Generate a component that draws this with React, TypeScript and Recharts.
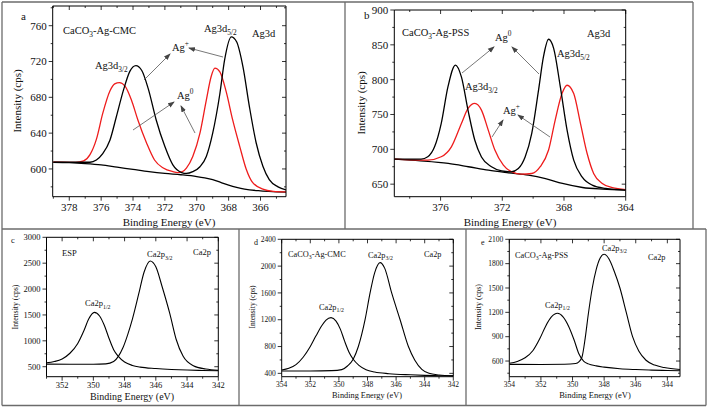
import React from 'react';
import { LineChart, Line, XAxis, YAxis } from 'recharts';

const W = 709;
const H = 407;
const FONT = "'Liberation Serif', 'Times New Roman', 'DejaVu Serif', serif";
const RED = '#ee1c1c';

type Pt = [number, number];

// ---- panel a : CaCO3-Ag-CMC, Ag3d ----
const aBackground: Pt[] = [
  [379.0, 607.5], [378, 607], [377, 606], [376, 604.5], [375, 602], [374, 599.5], [373, 597],
  [372, 595], [371, 593.5], [370, 591.5], [369.5, 590], [369, 588], [368.5, 585], [368, 582],
  [367.5, 579.5], [367, 577.5], [366, 575.5], [365, 574.5], [364.4, 574],
];
const aAgPlus: Pt[] = [
  [379.0, 607.5], [377.6, 607.3], [377.1, 609], [376.7, 616], [376.3, 633], [375.9, 662],
  [375.45, 687], [375.15, 695], [374.85, 696.5], [374.5, 692.5], [374.1, 677], [373.7, 655],
  [373.15, 629], [372.65, 610], [372.1, 601], [371.5, 597], [371.2, 596], [370.9, 597],
  [370.65, 601], [370.25, 614], [369.8, 640], [369.4, 677], [369.1, 703], [368.86, 712.5],
  [368.55, 708.5], [368.15, 686], [367.75, 655], [367.3, 625], [366.9, 600], [366.5, 585],
  [365.85, 577.5], [365.2, 575], [364.4, 574.3],
];
const aAg0: Pt[] = [
  [379.0, 607.5], [376.7, 607.5], [376.3, 610], [375.9, 617], [375.45, 632], [375.05, 658],
  [374.6, 688], [374.2, 709], [373.82, 715.5], [373.45, 710], [373.05, 690], [372.55, 655],
  [372.0, 625], [371.5, 604.5], [370.95, 596], [370.65, 595], [370.25, 597], [369.8, 602.5],
  [369.4, 614], [369.0, 640], [368.55, 684], [368.25, 722], [367.83, 747.5], [367.5, 742],
  [367.1, 714], [366.7, 670], [366.27, 629], [365.85, 603], [365.45, 588], [364.9, 580],
  [364.4, 576.5],
];

// ---- panel b : CaCO3-Ag-PSS, Ag3d ----
const bBackground: Pt[] = [
  [379, 686], [377.3, 683.5], [375.5, 679.7], [374.2, 675], [372.9, 670], [371.6, 666.3],
  [370.3, 663], [369.2, 658], [368.1, 651], [366.8, 645.2], [365.5, 642.8], [364, 641.4],
];
const bAg0: Pt[] = [
  [379, 686], [377.26, 686], [376.83, 689.3], [376.39, 703.6], [375.96, 737], [375.52, 790],
  [375.04, 821], [374.65, 804], [374.22, 756], [373.78, 713], [373.35, 689], [372.7, 675],
  [372.04, 669], [371.43, 667.7], [370.96, 672.5], [370.52, 689], [370.09, 723], [369.65, 785],
  [369.33, 833], [369.0, 858], [368.67, 845], [368.24, 790], [367.8, 727.6], [367.37, 684.5],
  [366.83, 660.5], [366.17, 648.6], [365.3, 643.8], [364, 641.4],
];
const bAgPlus: Pt[] = [
  [379, 686], [376.83, 684.5], [375.96, 689.3], [375.3, 703.6], [374.65, 737], [374.22, 758.7],
  [373.78, 766], [373.35, 756.3], [372.91, 727.6], [372.48, 699], [371.93, 677.3], [371.39, 667.7],
  [370.74, 664.4], [370.09, 665.3], [369.54, 675], [369.0, 699], [368.57, 742], [368.13, 780],
  [367.8, 792], [367.37, 780], [366.93, 737], [366.5, 694], [366.07, 665], [365.52, 651],
  [364.87, 645], [364, 642.3],
];

// ---- panel c : ESP, Ca2p ----
const cP12: Pt[] = [
  [353, 575], [352.5, 600], [352, 650], [351.5, 760], [351, 950], [350.6, 1200], [350.3, 1420],
  [349.94, 1550], [349.6, 1480], [349.3, 1300], [349, 1050], [348.7, 830], [348.4, 700],
  [348, 590], [347.5, 525], [347, 492], [346, 465], [345, 447], [344, 435], [343, 428], [342, 422],
];
const cP32: Pt[] = [
  [353, 550], [351.5, 548], [350, 548], [349.2, 555], [348.7, 600], [348.4, 700], [348.1, 870],
  [347.8, 1120], [347.5, 1420], [347.1, 1900], [346.75, 2330], [346.36, 2543], [346.0, 2430],
  [345.6, 2050], [345.1, 1520], [344.7, 1030], [344.25, 700], [343.6, 520], [342.8, 455], [342, 430],
];

// ---- panel d : CaCO3-Ag-CMC, Ca2p ----
const dP12: Pt[] = [
  [354, 450], [353.5, 475], [353, 530], [352.5, 640], [352, 800], [351.6, 960], [351.2, 1110],
  [350.9, 1195], [350.55, 1231], [350.2, 1180], [349.9, 1060], [349.6, 880], [349.3, 720],
  [349.0, 610], [348.6, 520], [348.1, 455], [347.5, 420], [346.5, 395], [345, 378], [344, 370],
  [343, 365], [342, 362],
];
const dP32: Pt[] = [
  [354, 435], [352, 435], [350.5, 440], [349.8, 455], [349.4, 510], [349.0, 610], [348.64, 800],
  [348.17, 1200], [347.82, 1600], [347.5, 1900], [347.12, 2052], [346.8, 1970], [346.31, 1600],
  [345.72, 1200], [345.14, 800], [344.7, 600], [344.2, 460], [343.7, 400], [343, 375], [342, 362],
];

// ---- panel e : CaCO3-Ag-PSS, Ca2p ----
const eP12: Pt[] = [
  [354, 572], [353.5, 595], [353, 640], [352.5, 730], [352.06, 880], [351.7, 1030], [351.35, 1140],
  [350.95, 1188], [350.6, 1145], [350.25, 1030], [349.9, 860], [349.6, 690], [349.3, 600],
  [349, 565], [348.5, 540], [348, 525], [347, 505], [346, 495], [345, 488], [344, 483], [343.2, 480],
];
const eP32: Pt[] = [
  [354, 559], [352, 558], [350.5, 560], [349.8, 570], [349.6, 590], [349.4, 650], [349.2, 880],
  [349.0, 1180], [348.75, 1500], [348.5, 1730], [348.25, 1870], [348.0, 1915], [347.7, 1860],
  [347.35, 1700], [347.0, 1500], [346.6, 1200], [346.2, 900], [345.8, 720], [345.35, 610],
  [344.8, 550], [344.2, 520], [343.2, 495],
];

const range = (a: number, b: number, s: number) => {
  const out: number[] = [];
  for (let v = a; v <= b + 1e-9; v += s) out.push(v);
  return out;
};

type Series = { pts: Pt[]; color: string; width: number };
type PanelProps = {
  box: [number, number, number, number];
  xDomain: [number, number];
  yDomain: [number, number];
  xTicks: number[];
  xLabels: number[];
  yTicks: number[];
  yLabels: number[];
  series: Series[];
  fs: number;
  lw: number;
};

const bottomTick = (labels: number[], fs: number) => (p: any) => {
  const major = labels.includes(p.payload.value);
  return (
    <g>
      <line x1={p.x} x2={p.x} y1={p.y} y2={p.y + (major ? 4 : 2)} stroke="#000" strokeWidth={0.8} />
      {major && (
        <text x={p.x} y={p.y + fs + 3} textAnchor="middle" fontSize={fs} fontFamily={FONT} fill="#111">
          {p.payload.value}
        </text>
      )}
    </g>
  );
};
const leftTick = (labels: number[], fs: number) => (p: any) => {
  const major = labels.includes(p.payload.value);
  return (
    <g>
      <line x1={p.x} x2={p.x - (major ? 4 : 2)} y1={p.y} y2={p.y} stroke="#000" strokeWidth={0.8} />
      {major && (
        <text x={p.x - 6} y={p.y + fs * 0.35} textAnchor="end" fontSize={fs} fontFamily={FONT} fill="#111">
          {p.payload.value}
        </text>
      )}
    </g>
  );
};
const topTick = (labels: number[]) => (p: any) => (
  <line x1={p.x} x2={p.x} y1={p.y} y2={p.y + (labels.includes(p.payload.value) ? 4 : 2)} stroke="#000" strokeWidth={0.8} />
);
const rightTick = (labels: number[]) => (p: any) => (
  <line x1={p.x} x2={p.x - (labels.includes(p.payload.value) ? 4 : 2)} y1={p.y} y2={p.y} stroke="#000" strokeWidth={0.8} />
);

const Panel = ({ box, xDomain, yDomain, xTicks, xLabels, yTicks, yLabels, series, fs, lw }: PanelProps) => {
  const [x0, y0, x1, y1] = box;
  const axisLine = { stroke: '#000', strokeWidth: 1 };
  // axes take 1px each, margins put the plot area exactly on the box
  return (
    <div style={{ position: 'absolute', left: 0, top: 0 }}>
      <LineChart width={W} height={H} margin={{ left: x0 - 1, top: y0 - 1, right: W - x1 - 1, bottom: H - y1 - 1 }}>
        <XAxis xAxisId="b" type="number" dataKey="e" domain={xDomain} reversed allowDataOverflow
          ticks={xTicks} interval={0} height={1} tickSize={0} tickMargin={0} tickLine={false}
          axisLine={axisLine} tick={bottomTick(xLabels, fs)} />
        <XAxis xAxisId="t" orientation="top" type="number" dataKey="e" domain={xDomain} reversed allowDataOverflow
          ticks={xTicks} interval={0} height={1} tickSize={0} tickMargin={0} tickLine={false}
          axisLine={axisLine} tick={topTick(xLabels)} />
        <YAxis yAxisId="l" type="number" domain={yDomain} allowDataOverflow ticks={yTicks} interval={0}
          width={1} tickSize={0} tickMargin={0} tickLine={false} axisLine={axisLine} tick={leftTick(yLabels, fs)} />
        <YAxis yAxisId="r" orientation="right" type="number" domain={yDomain} allowDataOverflow ticks={yTicks}
          interval={0} width={1} tickSize={0} tickMargin={0} tickLine={false} axisLine={axisLine}
          tick={rightTick(yLabels)} />
        {series.map((s, i) => (
          <Line key={i} xAxisId="b" yAxisId="l" data={s.pts.map(([e, c]) => ({ e, c }))} dataKey="c"
            type="monotone" dot={false} stroke={s.color} strokeWidth={lw * s.width} isAnimationActive={false} />
        ))}
      </LineChart>
    </div>
  );
};

const Txt = ({ x, y, fs, main, sub, sup, rest, anchor }: any) => (
  <text x={x} y={y} fontSize={fs} fontFamily={FONT} fill="#111" textAnchor={anchor || 'start'}>
    {main}
    {sub && <tspan dy={fs * 0.3} fontSize={fs * 0.7}>{sub}</tspan>}
    {sup && <tspan dy={-fs * 0.4} fontSize={fs * 0.7}>{sup}</tspan>}
    {rest && <tspan dy={sub ? -fs * 0.3 : fs * 0.4}>{rest}</tspan>}
  </text>
);

const Arrow = ({ x1, y1, x2, y2 }: any) => (
  <line x1={x1} y1={y1} x2={x2} y2={y2} stroke="#555" strokeWidth={0.8} markerEnd="url(#arr)" />
);

const Title = ({ x, y, fs, rot, children }: any) => (
  <text transform={rot ? `translate(${x},${y}) rotate(-90)` : undefined} x={rot ? 0 : x} y={rot ? 0 : y}
    textAnchor="middle" fontSize={fs} fontFamily={FONT} fill="#111">{children}</text>
);

const Overlay = () => {
  const fr = { stroke: '#6b6b6b', strokeWidth: 1.3 };
  return (
    <svg width={W} height={H} style={{ position: 'absolute', left: 0, top: 0 }}>
      <defs>
        <marker id="arr" markerWidth={7} markerHeight={6} refX={6} refY={3} orient="auto" markerUnits="userSpaceOnUse">
          <path d="M0,0.5 L7,3 L0,5.5 z" fill="#444" />
        </marker>
      </defs>
      {/* frame */}
      <line x1={2} y1={2} x2={693} y2={2} {...fr} />
      <line x1={2} y1={2} x2={2} y2={405.5} {...fr} />
      <line x1={693} y1={2} x2={693} y2={229} {...fr} />
      <line x1={345} y1={2} x2={345} y2={229} {...fr} />
      <line x1={2} y1={229} x2={706} y2={229} {...fr} />
      <line x1={239} y1={229} x2={239} y2={405.5} {...fr} />
      <line x1={466} y1={229} x2={466} y2={405.5} {...fr} />
      <line x1={706} y1={229} x2={706} y2={405.5} {...fr} />
      <line x1={2} y1={405.5} x2={706} y2={405.5} {...fr} />

      {/* panel a */}
      <Txt x={21} y={19.5} fs={11} main="a" />
      <Txt x={63} y={33.5} fs={10.5} main="CaCO" sub="3" rest="-Ag-CMC" />
      <Txt x={204} y={31.5} fs={10.5} main="Ag3d" sub="5/2" />
      <Txt x={252} y={36.5} fs={10.5} main="Ag3d" />
      <Txt x={172} y={50.5} fs={10.5} main="Ag" sup="+" />
      <Txt x={95} y={68.5} fs={10.5} main="Ag3d" sub="3/2" />
      <Txt x={177} y={98.5} fs={10.5} main="Ag" sup="0" />
      <Arrow x1={144} y1={80} x2={170} y2={54} />
      <Arrow x1={223} y1={57} x2={189} y2={48} />
      <Arrow x1={133} y1={130} x2={174} y2={102} />
      <Arrow x1={195} y1={133} x2={181} y2={106} />
      <Title x={169} y={226} fs={11}>Binding Energy (eV)</Title>
      <Title x={21} y={101} fs={11} rot>Intensity (cps)</Title>

      {/* panel b */}
      <Txt x={364} y={18.5} fs={11} main="b" />
      <Txt x={402} y={35.5} fs={10.5} main="CaCO" sub="3" rest="-Ag-PSS" />
      <Txt x={495} y={40.5} fs={10.5} main="Ag" sup="0" />
      <Txt x={587} y={36.5} fs={10.5} main="Ag3d" />
      <Txt x={557} y={56.5} fs={10.5} main="Ag3d" sub="5/2" />
      <Txt x={465} y={89.5} fs={10.5} main="Ag3d" sub="3/2" />
      <Txt x={503} y={113.5} fs={10.5} main="Ag" sup="+" />
      <Arrow x1={462} y1={73} x2={494} y2={47} />
      <Arrow x1={539} y1={74} x2={512} y2={47} />
      <Arrow x1={492} y1={137} x2={503} y2={120} />
      <Arrow x1={550} y1={137} x2={518} y2={115} />
      <Title x={510} y={226} fs={11}>Binding Energy (eV)</Title>
      <Title x={365} y={103} fs={11} rot>Intensity (cps)</Title>

      {/* panel c */}
      <Txt x={11} y={243} fs={8.5} main="c" />
      <Txt x={62} y={256} fs={8.5} main="ESP" />
      <Txt x={147} y={257} fs={8.5} main="Ca2p" sub="3/2" />
      <Txt x={193} y={255} fs={8.5} main="Ca2p" />
      <Txt x={85} y={306} fs={8.5} main="Ca2p" sub="1/2" />
      <Title x={132} y={399.5} fs={10}>Binding Energy (eV)</Title>
      <Title x={18} y={307} fs={7.8} rot>Intensity (cps)</Title>

      {/* panel d */}
      <Txt x={254} y={245} fs={8} main="d" />
      <Txt x={288} y={257} fs={8.3} main="CaCO" sub="3" rest="-Ag-CMC" />
      <Txt x={368} y={258} fs={8.3} main="Ca2p" sub="3/2" />
      <Txt x={424} y={257} fs={8.3} main="Ca2p" />
      <Txt x={319} y={310} fs={8.3} main="Ca2p" sub="1/2" />
      <Title x={367} y={398} fs={8.3}>Binding Energy (eV)</Title>
      <Title x={255} y={307} fs={7.5} rot>Intensity (cps)</Title>

      {/* panel e */}
      <Txt x={481} y={245} fs={8} main="e" />
      <Txt x={515} y={258} fs={8.3} main="CaCO" sub="3" rest="-Ag-PSS" />
      <Txt x={602} y={251} fs={8.3} main="Ca2p" sub="3/2" />
      <Txt x={648} y={260} fs={8.3} main="Ca2p" />
      <Txt x={545} y={308} fs={8.3} main="Ca2p" sub="1/2" />
      <Title x={595} y={398} fs={8.5}>Binding Energy (eV)</Title>
      <Title x={481} y={307} fs={8} rot>Intensity (cps)</Title>
    </svg>
  );
};

const black = (pts: Pt[], width = 1): Series => ({ pts, color: '#000', width });
const red = (pts: Pt[], width = 1): Series => ({ pts, color: RED, width });

export default function App() {
  return (
    <div style={{ position: 'absolute', left: 0, top: 0, width: W, height: H, background: '#fff', overflow: 'hidden' }}>
      <Panel box={[52.7, 6, 286, 196.7]} xDomain={[364.4, 379.04]} yDomain={[569, 782]}
        xTicks={range(365, 379, 1)} xLabels={range(366, 378, 2)} yTicks={range(580, 780, 20)}
        yLabels={range(600, 760, 40)} fs={11} lw={1.3}
        series={[black(aBackground), red(aAgPlus), black(aAg0)]} />
      <Panel box={[394.3, 10, 625.7, 196.7]} xDomain={[364, 379]} yDomain={[632, 900]}
        xTicks={range(364, 378, 2)} xLabels={range(364, 376, 4)} yTicks={range(650, 900, 25)}
        yLabels={range(650, 900, 50)} fs={11} lw={1.3}
        series={[black(bBackground), red(bAgPlus), black(bAg0)]} />
      <Panel box={[46.5, 237.3, 218.3, 376.7]} xDomain={[342, 353]} yDomain={[307, 3000]}
        xTicks={range(342, 353, 1)} xLabels={range(342, 352, 2)} yTicks={range(500, 3000, 250)}
        yLabels={range(500, 3000, 500)} fs={8.5} lw={1.1}
        series={[black(cP12), black(cP32)]} />
      <Panel box={[281.7, 239.3, 453.3, 376.7]} xDomain={[342, 354]} yDomain={[350, 2400]}
        xTicks={range(342, 354, 1)} xLabels={range(342, 354, 2)} yTicks={range(400, 2400, 200)}
        yLabels={range(400, 2400, 400)} fs={7.5} lw={1.1}
        series={[black(dP12), black(dP32)]} />
      <Panel box={[509.3, 239.3, 680, 376.7]} xDomain={[343.2, 354]} yDomain={[407, 2100]}
        xTicks={range(344, 354, 1)} xLabels={range(344, 354, 2)} yTicks={range(450, 2100, 150)}
        yLabels={range(600, 2100, 300)} fs={7.5} lw={1.1}
        series={[black(eP12), black(eP32)]} />
      <Overlay />
    </div>
  );
}
